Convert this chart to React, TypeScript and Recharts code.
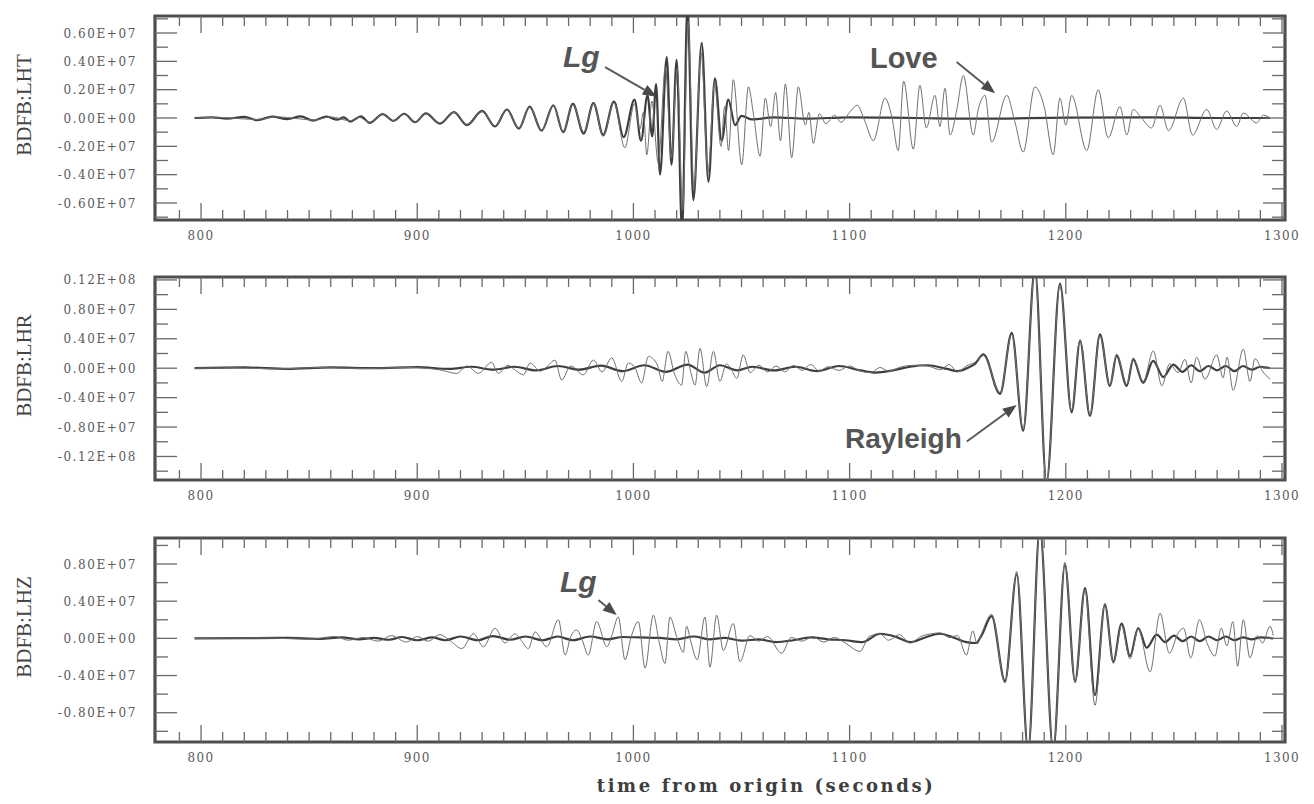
import React from 'react';
import { LineChart, Line, XAxis, YAxis, ReferenceArea, ReferenceLine, ReferenceDot } from 'recharts';

type Pt = [number, number];

// ---------- axes ----------
const X_MIN = 778.7;
const X_MAX = 1301.4;
const X_LABELS = [800, 900, 1000, 1100, 1200, 1300];
const X_TICKS = Array.from({ length: 52 }, (_, i) => 790 + i * 10);

// values in units of 1e6
const LHT_MAJOR = [-6, -4, -2, 0, 2, 4, 6];
const LHT_LABELS = ['-0.60E+07', '-0.40E+07', '-0.20E+07', '0.00E+00', '0.20E+07', '0.40E+07', '0.60E+07'];
const LHT_MINOR = [-7, -5, -3, -1, 1, 3, 5, 7];
const LHT_DOMAIN: Pt = [-7.2, 7.2];

const LHR_MAJOR = [-12, -8, -4, 0, 4, 8, 12];
const LHR_LABELS = ['-0.12E+08', '-0.80E+07', '-0.40E+07', '0.00E+00', '0.40E+07', '0.80E+07', '0.12E+08'];
const LHR_MINOR = [-14, -10, -6, -2, 2, 6, 10];
const LHR_DOMAIN: Pt = [-15.2, 12.4];

const LHZ_MAJOR = [-8, -4, 0, 4, 8];
const LHZ_LABELS = ['-0.80E+07', '-0.40E+07', '0.00E+00', '0.40E+07', '0.80E+07'];
const LHZ_MINOR = [-10, -6, -2, 2, 6, 10];
const LHZ_DOMAIN: Pt = [-11.15, 10.8];

// ---------- traces: [time (s), amplitude (1e6)] ----------
const LHT_DARK: Pt[] = [
  [797, 0], [805, 0.05], [812, -0.05], [820, 0.08], [826, -0.15], [833, 0.1], [840, -0.08], [846, 0.12],
  [852, -0.18], [858, 0.1], [863, -0.12], [866, 0.05], [869, -0.25], [874, 0.12], [878, -0.35], [884, 0.28],
  [889, -0.2], [894, 0.3], [899, -0.3], [904, 0.32], [910.5, -0.4], [917, 0.42], [923, -0.5], [930, 0.5],
  [936, -0.6], [941.5, 0.6], [947, -0.75], [952, 0.8], [957.5, -0.9], [963, 0.9], [967.5, -1.0], [972, 1.0],
  [977, -1.1], [981.5, 1.05], [986, -1.2], [991, 1.15], [995.5, -1.35], [1000.5, 1.3], [1003.5, -1.6],
  [1006.5, 1.6], [1008.7, -1.3], [1010.5, 2.4], [1012.3, -4.0], [1015.4, 4.3], [1017.6, -3.3], [1020, 4.1],
  [1022.5, -8.0], [1025, 8.0], [1027.7, -5.8], [1031.6, 5.3], [1034.7, -4.5], [1037.7, 2.8], [1040.8, -1.6],
  [1043.9, 1.3], [1047, -0.5], [1050, 0.15], [1055, -0.1], [1065, 0.05], [1080, -0.05], [1100, 0.05],
  [1130, 0], [1160, -0.05], [1200, 0.03], [1240, 0.05], [1270, 0], [1294.5, 0],
];

const LHT_THIN: Pt[] = [
  [797, 0], [808, 0.05], [818, -0.05], [826, -0.1], [835, 0.08], [845, -0.05], [852, -0.15], [860, 0.08],
  [869, -0.2], [873, 0.05], [878, -0.3], [884, 0.25], [889, -0.2], [894, 0.25], [899, -0.3], [904, 0.3],
  [910.5, -0.35], [917, 0.4], [923, -0.45], [930, 0.45], [936, -0.55], [941.5, 0.55], [947, -0.7], [952, 0.75],
  [957.5, -0.85], [963, 0.85], [967.5, -0.95], [972, 0.95], [977, -1.0], [981.5, 1.0], [986, -1.3], [991, 1.1],
  [996, -2.1], [1000.5, 1.0], [1003, -0.8], [1004.6, 0.4], [1006.2, -2.6], [1008.5, 1.2], [1011.5, -3.2],
  [1014.8, 3.6], [1017.5, -2.8], [1020.3, 3.5], [1022.8, -6.5], [1025.3, 6.8], [1028, -5.0], [1031.3, 4.6],
  [1034.5, -3.8], [1037.5, 2.4], [1040.5, -2.0], [1042.2, 0.8], [1044, -2.3], [1046.2, 2.7], [1050.1, -3.3],
  [1053.2, 2.2], [1055.5, 0.3], [1058.6, -2.7], [1061, 1.4], [1063.5, -0.6], [1065.8, 1.8], [1068, -1.6],
  [1070.3, 2.4], [1073.2, -2.8], [1076.3, 2.2], [1079.5, -0.5], [1081.2, 0.4], [1083.2, -1.8], [1086, 0.3],
  [1089, -0.4], [1093, 0.2], [1096, -0.3], [1100, 0.4], [1103.5, 0.9], [1107, -0.2], [1111, -1.6],
  [1116.4, 1.4], [1119.5, 0.1], [1122.5, -2.3], [1125, 2.6], [1129.5, -2.2], [1132.5, 2.3], [1135.5, -0.7],
  [1139.5, 1.6], [1141.8, -0.6], [1144.1, 2.1], [1146.5, -1.2], [1149.5, 0.5], [1152.6, 3.0], [1157.2, -1.2],
  [1159.5, 0.6], [1162.6, 1.6], [1165.7, -1.7], [1172.7, 1.6], [1176.5, -0.3], [1180.3, -2.4], [1185.7, 2.2],
  [1190, 0.8], [1194.2, -2.6], [1197.3, 1.4], [1200, -0.5], [1202.7, 1.6], [1209.7, -2.3], [1215, 2.0],
  [1219.6, -1.4], [1225.1, 0.8], [1228.2, -1.2], [1231.2, 0.6], [1235, 0.0], [1239.7, -0.7], [1243.6, 0.9],
  [1247.5, -0.9], [1254.4, 1.4], [1258.6, -1.2], [1265.2, 0.6], [1269.8, -0.8], [1274.4, 0.5], [1279.1, -0.6],
  [1282.1, 0.35], [1288.3, -0.35], [1291.4, 0.2], [1294.5, 0],
];

const LHR_DARK: Pt[] = [
  [797, 0], [820, 0.1], [840, -0.1], [860, 0.1], [880, 0], [900, 0.15], [915, -0.1], [925, 0.2], [935, -0.2],
  [945, 0.2], [955, -0.3], [965, 0.3], [975, -0.2], [985, 0.35], [995, -0.4], [1005, 0.4], [1015, -0.5],
  [1025, 0.5], [1033, -0.6], [1040, 0.4], [1048, -0.3], [1055, 0.2], [1065, -0.3], [1075, 0.2], [1085, -0.4],
  [1095, 0.3], [1105, -0.3], [1112, -0.6], [1120, -0.3], [1128, 0.2], [1136, 0.4], [1145, -0.1], [1150, -0.4],
  [1155, 0.1], [1158, 0.6], [1161.9, 1.9], [1169.6, -3.5], [1175, 4.8], [1180.3, -8.5], [1185.7, 13.5],
  [1191.1, -15.5], [1197.3, 11.5], [1202.7, -6.0], [1206.6, 3.7], [1211.2, -6.5], [1215.8, 4.6],
  [1220.4, -2.4], [1223.5, 1.7], [1228.2, -2.4], [1231.2, 1.2], [1235.8, -2.0], [1240.4, 1.0], [1245.1, -1.2],
  [1249.7, 0.5], [1254, -0.5], [1258, 0.4], [1262, -0.4], [1266, 0.3], [1270, -0.3], [1274, 0.3], [1278, -0.4],
  [1282, 0.3], [1286, -0.2], [1290, 0.2], [1294.5, 0],
];

const LHR_THIN: Pt[] = [
  [797, 0], [815, 0.05], [835, -0.1], [855, 0.1], [875, -0.05], [895, 0.1], [910, -0.2], [918.3, -0.7],
  [923, 0.3], [928.3, -0.7], [934.4, 0.8], [937.5, -0.7], [942, 0.4], [945.5, -0.3], [949.1, -0.9],
  [952.2, 0.7], [957, -0.4], [960, 0.2], [963.7, 1.1], [966.8, -1.6], [971, 0.3], [976.8, -0.9], [981.5, 1.1],
  [985.5, -0.5], [990, 1.4], [994.6, -1.8], [997.6, 0.7], [1000.5, 0.2], [1003.8, -2.0], [1006.9, 1.6],
  [1011, 0.5], [1013.3, -1.8], [1016, 2.3], [1019, -0.8], [1022.3, -2.3], [1024.2, 2.3], [1026.5, -0.5],
  [1028.5, -2.3], [1030.8, 2.7], [1033.9, -2.5], [1037, 2.3], [1040, -1.8], [1043, 0.6], [1045.5, -0.3],
  [1047.8, -1.4], [1050.8, 1.8], [1054, -0.6], [1058, 0.4], [1062, -0.5], [1066, 0.3], [1070, -0.5],
  [1074, 0.4], [1078, -0.3], [1082, 0.5], [1086, -0.4], [1090, 0.2], [1095, -0.3], [1100, 0.3], [1105, -0.4],
  [1110, -0.6], [1114, 0.1], [1118, -0.4], [1124, 0.2], [1130, 0.4], [1136, 0.3], [1142, -0.2], [1146, 0.5],
  [1150, -0.5], [1154, 0.3], [1158, 0.8], [1161.9, 1.7], [1169.6, -3.3], [1175, 4.6], [1180.3, -8.2],
  [1185.7, 13.2], [1191.1, -15.5], [1197.3, 11.2], [1202.7, -5.7], [1206.6, 3.9], [1211.2, -6.3],
  [1215.8, 4.4], [1220.4, -2.3], [1223.5, 1.9], [1228.2, -2.2], [1231.2, 1.4], [1235.8, -1.8], [1240.5, 2.35],
  [1244.4, -2.4], [1248, 0.6], [1252, -0.6], [1255.1, 1.2], [1258, -2.0], [1260.5, 1.5], [1264.4, -1.5],
  [1269.8, 1.8], [1272.8, -1.3], [1274.6, 1.5], [1277.4, -3.0], [1282.1, 2.6], [1285.2, -1.8], [1287.5, 1.3],
  [1291, -0.4], [1294.5, -1.5],
];

const LHZ_DARK: Pt[] = [
  [797, 0], [820, 0.02], [840, 0.05], [855, -0.05], [865, 0.1], [873, -0.1], [880, 0.05], [887, -0.15],
  [893, 0.15], [900, -0.2], [907, 0.1], [913, -0.2], [920, 0.2], [928, -0.2], [935, 0.25], [943, -0.15],
  [950, 0.2], [958, -0.2], [965, 0.2], [972, -0.2], [980, 0.2], [988, -0.1], [995, 0.15], [1003, 0.1],
  [1012, 0.05], [1020, -0.1], [1028, 0.2], [1035, -0.1], [1042, 0.05], [1050, -0.25], [1058, -0.1],
  [1066, -0.4], [1074, -0.2], [1082, 0.1], [1090, -0.1], [1098, -0.2], [1106, -0.4], [1114, 0.5], [1121, 0.2],
  [1128, -0.4], [1135, 0.1], [1141.8, 0.5], [1148, 0.1], [1154, -0.4], [1158.5, -0.5], [1161, 0.3],
  [1165.7, 2.4], [1171.9, -4.6], [1177.3, 6.9], [1182.6, -12.0], [1188, 11.8], [1194.2, -12.0], [1199.6, 7.9],
  [1204.3, -4.6], [1208.9, 5.4], [1213.5, -6.1], [1218.1, 3.6], [1222, -2.5], [1225.8, 1.6], [1229.7, -1.9],
  [1233.5, 1.1], [1237.4, -1.0], [1242, 0.4], [1246, -0.4], [1250, 0.3], [1254, -0.3], [1258, 0.2],
  [1262, -0.3], [1266, 0.2], [1270, -0.2], [1274, 0.2], [1278, -0.2], [1282, 0.1], [1286, -0.1], [1290, 0.1],
  [1296, 0],
];

const LHZ_THIN: Pt[] = [
  [797, 0], [830, 0.05], [850, -0.1], [862, 0.2], [868, -0.2], [875, 0.1], [882, -0.3], [888, 0.3],
  [895, -0.4], [900, 0.2], [905, -0.3], [910.5, 0.4], [915, -0.2], [920.6, -1.1], [926, 0.5], [930.6, -0.9],
  [936, 1.1], [940.6, -0.5], [945.2, 0.5], [948, -0.2], [951.4, -1.1], [954.5, 0.7], [959.9, -0.9],
  [965.3, 2.0], [968.4, -1.8], [971, 0.2], [973.8, 0.9], [976.5, -0.3], [979.1, -1.8], [983, 1.8],
  [987.7, -0.9], [990, 0.3], [993, 2.3], [996.1, -2.3], [999, 0.2], [1002.3, 1.8], [1005.4, -3.2],
  [1009.2, 2.5], [1012, -0.5], [1014.6, -2.7], [1016.9, 2.3], [1020, 0.2], [1023.1, -1.5], [1024.6, 1.3],
  [1026.5, -0.3], [1029.5, -2.3], [1033.1, 2.3], [1035.4, -3.1], [1038.5, 2.5], [1041.6, -1.3], [1046.2, 1.6],
  [1049.3, -2.5], [1053.9, 0.3], [1058, -0.3], [1062, 0.2], [1068.6, -1.6], [1073, 0.1], [1078, -0.3],
  [1083, 0.2], [1088, -0.4], [1093, 0.1], [1098, -0.5], [1104.8, -1.4], [1109, 0.2], [1114, 0.5],
  [1118, -0.2], [1123, 0.4], [1128, -0.5], [1133, 0.2], [1138, 0.5], [1142, 0.6], [1146, 0.1], [1150, 0.3],
  [1154, -1.8], [1157, 0.8], [1159, -0.6], [1161, 0.5], [1165.7, 2.6], [1171.9, -4.8], [1177.3, 7.2],
  [1182.6, -12.0], [1188, 11.8], [1194.2, -12.0], [1199.6, 8.2], [1204.3, -4.8], [1208.9, 5.2], [1213.5, -7.2],
  [1218.1, 3.8], [1222, -2.7], [1225.8, 1.4], [1229.7, -2.2], [1233.5, 1.0], [1239, -3.6], [1243.6, 2.7],
  [1247.9, -1.6], [1252, 0.6], [1254.5, 1.1], [1257.8, -2.1], [1261.8, 2.0], [1265.5, -0.6], [1269, -1.9],
  [1271.9, 1.1], [1274.5, -0.8], [1277.3, 1.8], [1279.5, -3.0], [1282.1, 2.0], [1285.2, -2.1], [1288.5, 0.3],
  [1291, -0.5], [1294.5, 1.3], [1296, 0.3],
];

// ---------- annotations ----------
type Note = { text: string; t: number; v: number; italic?: boolean; size: number };
type Arrow = { t1: number; v1: number; t2: number; v2: number };

const LHT_NOTES: Note[] = [
  { text: 'Lg', t: 967.4, v: 3.59, italic: true, size: 30 },
  { text: 'Love', t: 1109.4, v: 3.52, size: 29 },
];
const LHT_ARROWS: Arrow[] = [
  { t1: 986.9, v1: 3.59, t2: 1010.8, v2: 1.5 },
  { t1: 1149.5, v1: 3.96, t2: 1167.3, v2: 1.74 },
];
const LHR_NOTES: Note[] = [{ text: 'Rayleigh', t: 1097.9, v: -10.83, size: 28 }];
const LHR_ARROWS: Arrow[] = [{ t1: 1154.2, v1: -9.97, t2: 1177.3, v2: -4.99 }];
const LHZ_NOTES: Note[] = [{ text: 'Lg', t: 966.0, v: 5.0, italic: true, size: 30 }];
const LHZ_ARROWS: Arrow[] = [{ t1: 983.8, v1: 4.13, t2: 992.3, v2: 2.51 }];

// ---------- styling ----------
const FRAME = '#4e4e4e';
const TICK_COLOR = '#6a6a6a';
const LABEL_COLOR = '#5a5a5a';
const DARK = '#3e3e3e';
const THIN = '#6f6f6f';
const PLOT_LEFT = 155;
const PLOT_W = 1130;
const CHART_W = 1314;

const toRows = (pts: Pt[]) => pts.map(([t, v]) => ({ t, v }));

const ArrowShape = (p: any) => {
  const { x1, y1, x2, y2 } = p;
  if ([x1, y1, x2, y2].some((n) => typeof n !== 'number' || isNaN(n))) return null;
  const dx = x2 - x1;
  const dy = y2 - y1;
  const len = Math.sqrt(dx * dx + dy * dy) || 1;
  const ux = dx / len;
  const uy = dy / len;
  const hl = 14;
  const hw = 5.5;
  const bx = x2 - ux * hl;
  const by = y2 - uy * hl;
  return (
    <g>
      <line x1={x1} y1={y1} x2={bx} y2={by} stroke="#5a5a5a" strokeWidth={2} />
      <polygon
        points={`${x2},${y2} ${bx - uy * hw},${by + ux * hw} ${bx + uy * hw},${by - ux * hw}`}
        fill="#4a4a4a"
      />
    </g>
  );
};

type PanelProps = {
  top: number;
  height: number;
  marginTop: number;
  axisHeight: number;
  title: string;
  domain: Pt;
  majors: number[];
  majorLabels: string[];
  minors: number[];
  dark: Pt[];
  thin: Pt[];
  notes: Note[];
  arrows: Arrow[];
};

function Panel(props: PanelProps) {
  const { top, height, marginTop, axisHeight, title, domain, majors, majorLabels, minors, dark, thin, notes, arrows } = props;
  const plotH = height - marginTop - axisHeight;
  const yTicks = [...majors, ...minors].sort((a, b) => a - b);

  const xTick = (p: any) => {
    const { x, y, payload } = p;
    const v = payload.value;
    const major = X_LABELS.includes(v);
    const len = major ? 17 : 10;
    const topY = y - plotH;
    return (
      <g>
        <line x1={x} y1={y} x2={x} y2={y - len} stroke={TICK_COLOR} strokeWidth={1.3} />
        <line x1={x} y1={topY} x2={x} y2={topY + len} stroke={TICK_COLOR} strokeWidth={1.3} />
        {major && (
          <text
            x={x}
            y={y + 20}
            textAnchor="middle"
            fontFamily="DejaVu Serif"
            fontSize={12}
            letterSpacing={1.4}
            fill={LABEL_COLOR}
          >
            {v}
          </text>
        )}
      </g>
    );
  };

  const yTick = (p: any) => {
    const { x, y, payload } = p;
    const v = payload.value;
    const idx = majors.indexOf(v);
    const major = idx >= 0;
    const len = major ? 22 : 13;
    const rightX = x + PLOT_W;
    return (
      <g>
        <line x1={x} y1={y} x2={x + len} y2={y} stroke={TICK_COLOR} strokeWidth={1.3} />
        <line x1={rightX} y1={y} x2={rightX - len} y2={y} stroke={TICK_COLOR} strokeWidth={1.3} />
        {major && (
          <text
            x={x - 18}
            y={y + 4.5}
            textAnchor="end"
            fontFamily="DejaVu Serif"
            fontSize={12}
            letterSpacing={1.6}
            fill={LABEL_COLOR}
          >
            {majorLabels[idx]}
          </text>
        )}
      </g>
    );
  };

  return (
    <div style={{ position: 'absolute', left: 0, top, width: CHART_W, height }}>
      <LineChart width={CHART_W} height={height} margin={{ top: marginTop, right: CHART_W - PLOT_LEFT - PLOT_W, left: 0, bottom: 0 }}>
        <XAxis
          type="number"
          dataKey="t"
          domain={[X_MIN, X_MAX]}
          allowDataOverflow
          ticks={X_TICKS}
          interval={0}
          tickSize={0}
          tickMargin={0}
          axisLine={false}
          tickLine={false}
          height={axisHeight}
          tick={xTick}
        />
        <YAxis
          type="number"
          domain={domain}
          allowDataOverflow
          ticks={yTicks}
          interval={0}
          width={PLOT_LEFT}
          tickSize={0}
          tickMargin={0}
          axisLine={false}
          tickLine={false}
          tick={yTick}
        />
        <Line data={toRows(dark)} dataKey="v" type="monotone" stroke={DARK} strokeWidth={2.2} dot={false} activeDot={false} isAnimationActive={false} />
        <Line data={toRows(thin)} dataKey="v" type="monotone" stroke={THIN} strokeWidth={1} dot={false} activeDot={false} isAnimationActive={false} />
        <ReferenceArea x1={X_MIN} x2={X_MAX} y1={domain[0]} y2={domain[1]} fill="none" fillOpacity={0} stroke={FRAME} strokeWidth={3.2} ifOverflow="visible" />
        {arrows.map((a, i) => (
          <ReferenceLine
            key={'a' + i}
            segment={[{ x: a.t1, y: a.v1 }, { x: a.t2, y: a.v2 }]}
            shape={ArrowShape}
            ifOverflow="visible"
          />
        ))}
        {notes.map((n, i) => (
          <ReferenceDot
            key={'n' + i}
            x={n.t}
            y={n.v}
            r={1}
            ifOverflow="visible"
            shape={(p: any) => (
              <text
                x={p.cx}
                y={p.cy}
                fontFamily="Liberation Sans"
                fontWeight="bold"
                fontStyle={n.italic ? 'italic' : 'normal'}
                fontSize={n.size}
                fill="#555555"
              >
                {n.text}
              </text>
            )}
          />
        ))}
      </LineChart>
      <svg style={{ position: 'absolute', left: 0, top: 0 }} width={60} height={height}>
        <text
          transform={`translate(31, ${marginTop + plotH / 2 - 13}) rotate(-90)`}
          textAnchor="middle"
          fontFamily="Liberation Serif"
          fontSize={21}
          fill="#454545"
        >
          {title}
        </text>
      </svg>
    </div>
  );
}

export default function App() {
  return (
    <div style={{ position: 'absolute', left: 0, top: 0, width: 1314, height: 804, background: '#ffffff', overflow: 'hidden' }}>
      <Panel
        top={0}
        height={255}
        marginTop={16}
        axisHeight={35}
        title="BDFB:LHT"
        domain={LHT_DOMAIN}
        majors={LHT_MAJOR}
        majorLabels={LHT_LABELS}
        minors={LHT_MINOR}
        dark={LHT_DARK}
        thin={LHT_THIN}
        notes={LHT_NOTES}
        arrows={LHT_ARROWS}
      />
      <Panel
        top={255}
        height={255}
        marginTop={22}
        axisHeight={30}
        title="BDFB:LHR"
        domain={LHR_DOMAIN}
        majors={LHR_MAJOR}
        majorLabels={LHR_LABELS}
        minors={LHR_MINOR}
        dark={LHR_DARK}
        thin={LHR_THIN}
        notes={LHR_NOTES}
        arrows={LHR_ARROWS}
      />
      <Panel
        top={520}
        height={284}
        marginTop={18}
        axisHeight={62}
        title="BDFB:LHZ"
        domain={LHZ_DOMAIN}
        majors={LHZ_MAJOR}
        majorLabels={LHZ_LABELS}
        minors={LHZ_MINOR}
        dark={LHZ_DARK}
        thin={LHZ_THIN}
        notes={LHZ_NOTES}
        arrows={LHZ_ARROWS}
      />
      <svg style={{ position: 'absolute', left: 0, top: 760 }} width={1314} height={44}>
        <text
          x={766}
          y={32}
          textAnchor="middle"
          fontFamily="DejaVu Serif"
          fontWeight="bold"
          fontSize={18}
          letterSpacing={2.6}
          fill="#3e3e3e"
        >
          time from origin (seconds)
        </text>
      </svg>
    </div>
  );
}
